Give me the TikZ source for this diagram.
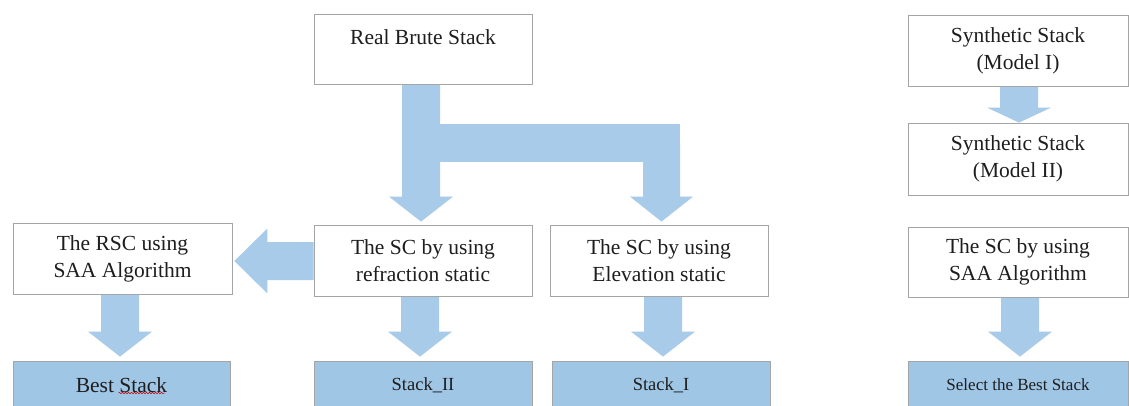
\documentclass[tikz,border=0pt]{standalone}
\usepackage{fontspec}
\setmainfont{Liberation Serif}
\usetikzlibrary{calc,backgrounds,decorations.pathmorphing}
\definecolor{blk}{RGB}{167,203,232}
\definecolor{bfill}{RGB}{160,198,230}
\definecolor{bord}{RGB}{165,165,165}
\definecolor{txt}{RGB}{30,30,30}
\newcommand{\dblk}[5]{% source, target, x offset, head length, gap
  \fill[arr] let \p1=($(#1.south)+(#3,0)$), \p2=(#2.north) in
   (\x1-19,\y1) -- (\x1+19,\y1) -- (\x1+19,\y2+#5+#4) -- (\x1+32,\y2+#5+#4)
   -- (\x1,\y2+#5) -- (\x1-32,\y2+#5+#4) -- (\x1-19,\y2+#5+#4) -- cycle;}
\begin{document}
\begin{tikzpicture}[x=1pt,y=1pt,
  wbox/.style={draw=bord, line width=0.8pt, fill=white, minimum height=71pt,
    inner sep=0pt, align=center, font=\fontsize{21.5}{27}\selectfont, text=txt},
  bbox/.style={draw=bord, line width=0.8pt, fill=bfill, minimum height=48pt,
    inner sep=0pt, align=center, text=txt},
  arr/.style={fill=blk, draw=none},
  big/.style={font=\fontsize{21.5}{27}\selectfont},
  mid/.style={font=\fontsize{18.5}{22}\selectfont},
  small/.style={font=\fontsize{17}{20}\selectfont}]
\useasboundingbox (0,0) rectangle (1129,405);

% white boxes
\node[wbox, minimum width=218pt, minimum height=70pt] (rbs) at (423,356) {};
\node[big, text=txt] (rbsT) at ($(rbs.north)+(0,-24)$) {Real Brute Stack};
\node[wbox, minimum width=219pt] (rsc) at (122.5,146.5) {The RSC using\\SAA Algorithm};
\node[wbox, minimum width=218pt] (ref) at (423,144.5) {The SC by using\\refraction static};
\node[wbox, minimum width=218pt] (ele) at (659,144.5) {The SC by using\\Elevation static};
\node[wbox, minimum width=220pt] (syn1) at (1018,354.5) {Synthetic Stack\\(Model I)};
\node[wbox, minimum width=220pt, minimum height=72pt] (syn2) at (1018,246) {Synthetic Stack\\(Model II)};
\node[wbox, minimum width=220pt, minimum height=70pt] (saa) at (1018,143) {The SC by using\\SAA Algorithm};

% blue result boxes
\node[bbox, big, minimum width=217pt] (best) at (121.5,20) {Best Stack};
\node[bbox, mid, minimum width=218pt] (s2) at (423,20) {Stack\_II};
\node[bbox, mid, minimum width=218pt] (s1) at (661,20) {Stack\_I};
\node[bbox, small, minimum width=220pt] (sel) at (1018,20) {Select the Best Stack};

% spell-check mark under "Stack"
\draw[red!80!black, line width=0.5pt, decorate,
  decoration={snake, amplitude=0.7pt, segment length=3pt}]
  ($(best.center)+(-3,-8)$) -- ($(best.center)+(43,-8)$);

% block arrows
\begin{scope}[on background layer]
\fill[white] (0,0) rectangle (1129,405);
\dblk{rbs}{ref}{-2}{25}{3}
\dblk{ref}{s2}{-3}{25}{4}
\dblk{rsc}{best}{-2.5}{25}{4}
\dblk{ele}{s1}{4}{25}{4}
\dblk{syn1}{syn2}{1}{15}{0}
\dblk{saa}{sel}{2}{25}{4}
% branch from Real Brute Stack to Elevation static
\coordinate (bj) at ($(rbs.south)+(-2,-59)$);
\coordinate (bc) at ($(ele.north)+(2.5,81.5)$);
\fill[arr] ($(bj)+(0,19)$) rectangle ($(bc)+(18.5,-19)$);
\fill[arr] let \p1=(bc), \p2=(ele.north) in
  (\x1-18.5,\y1) -- (\x1+18.5,\y1) -- (\x1+18.5,\y2+28) -- (\x1+31.5,\y2+28)
  -- (\x1,\y2+3) -- (\x1-31.5,\y2+28) -- (\x1-18.5,\y2+28) -- cycle;
% left arrow from refraction to RSC
\fill[arr] let \p1=(ref.west), \p2=(rsc.east) in
  (\x1,163) -- (\x2+35,163) -- (\x2+35,176.5) -- (\x2+2,144)
  -- (\x2+35,111.5) -- (\x2+35,125) -- (\x1,125) -- cycle;
\end{scope}
\end{tikzpicture}
\end{document}
